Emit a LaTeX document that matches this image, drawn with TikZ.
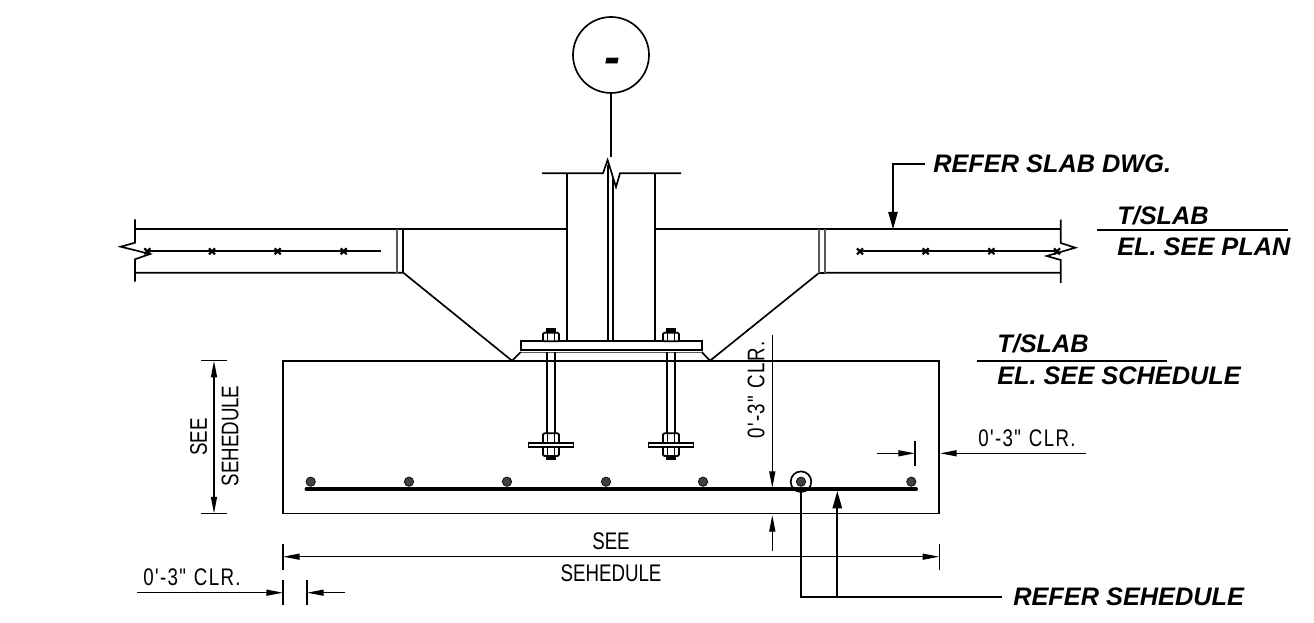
\documentclass[tikz,border=0pt]{standalone}
\usepackage{fontspec}
\setmainfont{Liberation Sans}
\newfontfamily\dimfont[FakeStretch=0.78]{Liberation Sans}
\usetikzlibrary{arrows.meta}
\tikzset{
  ln/.style={line width=1.25pt,black},
  thin ln/.style={line width=1pt,black},
  gray ln/.style={line width=1.25pt,black!65},
  dimarrow/.style={line width=1pt,black,-{Triangle[length=12.5pt,width=4.5pt]}},
  dimboth/.style={line width=1pt,black,{Triangle[length=12.5pt,width=4.5pt]}-{Triangle[length=12.5pt,width=4.5pt]}},
  leadarrow/.style={line width=1.25pt,black,-{Triangle[length=13pt,width=7pt]}},
  label/.style={font=\fontsize{19}{21}\selectfont\bfseries\itshape,inner sep=0pt,anchor=west},
  dim/.style={font=\dimfont\fontsize{18}{20}\selectfont,inner sep=0pt},
  bar/.style={circle,fill=black!75,draw=black,line width=0.5pt,minimum size=7pt,inner sep=0pt},
}
\newcommand{\clrtext}{0\kern1pt'\kern1pt-\kern1pt3\kern1pt"\kern6pt C\kern1pt L\kern1pt R\kern1pt.}
\begin{document}
\begin{tikzpicture}[x=0.75pt,y=-0.75pt]
\useasboundingbox (0,0) rectangle (1314,623);
% callout
\node[circle,draw,line width=1.25pt,minimum size=57pt,inner sep=0pt] (bubble) at (611,55) {};
\node[font=\fontsize{36}{36}\selectfont\bfseries\itshape,inner sep=0pt] (dash) at (612,66) {-};
\coordinate (stem) at (611,157);
\draw[ln] (bubble.south) -- (stem);
% column
\draw[ln] (542,173.3) -- (603,173.3) -- (607.6,160) -- (616,187) -- (620,173.3) -- (681,173.3);
\draw[ln] (566.7,173.3) -- (566.7,341.3) (655.3,173.3) -- (655.3,341.3);
\draw[ln] (608.3,165) -- (608.3,341.3) (613.3,178) -- (613.3,341.3);
% left slab
\draw[ln] (135,229.3) -- (566.7,229.3);
\draw[ln] (135,272.7) -- (403.3,272.7) -- (512,360.7) -- (520.7,352);
\draw[ln] (135,219.3) -- (135,242.7) -- (120.7,246.7) -- (150,254) -- (135,259.3) -- (135,281.7);
\draw[gray ln] (396.7,229.3) -- (396.7,272.7);
\draw[ln] (403.3,229.3) -- (403.3,272.7);
\draw[ln] (147,251.3) -- (381,251.3);
\foreach \x in {147.3,212,277.7,343.7}
  \draw[line width=1.6pt] (\x-3,248.3) -- (\x+3,254.3) (\x-3,254.3) -- (\x+3,248.3);
% right slab
\draw[ln] (655.3,229.3) -- (1060.7,229.3);
\draw[ln] (1060.7,272.7) -- (825,272.7) (819.3,272.7) -- (710,360.7) -- (701.7,352);
\draw[ln] (819.3,272.7) -- (825,272.7);
\draw[ln] (1060.7,219.7) -- (1060.7,243) -- (1075.3,247.7) -- (1046.7,256) -- (1060.7,260) -- (1060.7,283);
\draw[gray ln] (819.3,229.3) -- (819.3,272.7) (825,229.3) -- (825,272.7);
\draw[ln] (860,251.3) -- (1057,251.3);
\foreach \x in {860,925.7,991.3,1057}
  \draw[line width=1.6pt] (\x-3,248.3) -- (\x+3,254.3) (\x-3,254.3) -- (\x+3,248.3);
% footing
\node[draw,line width=1.25pt,outer sep=0pt,minimum width=492.2pt,minimum height=114.7pt,inner sep=0pt,anchor=north west] (footing) at (283,360.7) {};
% plate
\draw[ln,fill=white] (520.7,341.3) rectangle (701.7,350);
\draw[line width=1.5pt] (520.7,350.5) -- (701.7,350.5);
\draw[gray ln] (520.7,352.5) -- (701.7,352.5);
% bolts
\foreach \c in {551,671}{
  \draw[ln] (\c-4,352) -- (\c-4,433) (\c+4,352) -- (\c+4,433);
  \draw[ln,fill=white,rounded corners=1pt] (\c-8,332.7) rectangle (\c+8,341.3);
  \draw[ln] (\c-3.5,332.7) -- (\c-3.5,341.3) (\c+3.5,332.7) -- (\c+3.5,341.3);
  \fill (\c-5,328.5) rectangle (\c+5,332.7);
  \draw[ln,fill=white,rounded corners=1pt] (\c-8,433.3) rectangle (\c+8,456);
  \draw[ln] (\c-3.5,433.3) -- (\c-3.5,456) (\c+3.5,433.3) -- (\c+3.5,456);
  \draw[ln,fill=white] (\c-22.5,442.7) rectangle (\c+22.5,447.3);
  \fill (\c-5,456) rectangle (\c+5,460);
}
% bottom rebar
\draw[line width=3pt,line cap=round] (306.5,489.3) -- (916,489.3);
\foreach \n/\x in {a/310.7,b/409,c/507,d/606,e/703,f/801,g/911.3}
  \node[bar] (bar\n) at (\x,481.7) {};
\draw[ln] (barf) circle[radius=10.3];
% see schedule vertical
\draw[thin ln] (201,360.7) -- (227,360.7) (201,513.5) -- (227,513.5);
\coordinate (vt) at (214,360.7); \coordinate (vb) at (214,513.5);
\draw[dimboth] (vt) -- (vb);
\node[dim,rotate=90] (vsee) at (198.5,437) {SEE};
\node[dim,rotate=90] (vsch) at (230,436) {SEHEDULE};
% see schedule horizontal
\draw[thin ln] (283,544) -- (283,570) (939.3,544) -- (939.3,570);
\coordinate (hl) at (283,556.7); \coordinate (hr) at (939.3,556.7);
\draw[dimboth] (hl) -- (hr);
\node[dim] (hsee) at (611,541) {SEE};
\node[dim] (hsch) at (611,573) {SEHEDULE};
% bottom-left clearance
\draw[thin ln] (283,580) -- (283,605) (307,580) -- (307,605);
\coordinate (c1a) at (137,592.7); \coordinate (c1b) at (283,592.7);
\coordinate (c1c) at (345,592.7); \coordinate (c1d) at (307,592.7);
\draw[dimarrow] (c1a) -- (c1b);
\draw[dimarrow] (c1c) -- (c1d);
\node[dim] (c1t) at (192,577) {\clrtext};
% right clearance
\draw[thin ln] (915,441) -- (915,466);
\coordinate (c2a) at (877,453.3); \coordinate (c2b) at (915,453.3);
\coordinate (c2c) at (1086,453.3); \coordinate (c2d) at (940,453.3);
\draw[dimarrow] (c2a) -- (c2b);
\draw[dimarrow] (c2c) -- (c2d);
\node[dim] (c2t) at (1027,438) {\clrtext};
% vertical clearance
\coordinate (c3a) at (772.3,335); \coordinate (c3b) at (772.3,488);
\coordinate (c3c) at (772.3,551); \coordinate (c3d) at (772.3,515);
\draw[dimarrow] (c3a) -- (c3b);
\draw[dimarrow] (c3c) -- (c3d);
\node[dim,rotate=90] (c3t) at (756,390) {\clrtext};
% leaders
\coordinate (l1) at (893,229.3); \coordinate (l1t) at (925,164);
\draw[leadarrow] (l1t) -- (893,164) -- (l1);
\node[label] (slabdwg) at (933,164) {REFER SLAB DWG.};
\coordinate (l2) at (837.3,491); \coordinate (l3) at (801,491); \coordinate (l4) at (1002,596.7);
\draw[ln] (l3) -- (801,596.7) -- (l4);
\draw[leadarrow] (837.3,596.7) -- (l2);
\node[label] (sched) at (1013,597) {REFER SEHEDULE};
% levels
\node[label] (t1) at (1117,216) {T/SLAB};
\node[label] (e1) at (1117,247) {EL. SEE PLAN};
\coordinate (t1a) at (1097,230); \coordinate (t1b) at (1288,230);
\draw[ln] (t1a) -- (t1b);
\node[label] (t2) at (997,344) {T/SLAB};
\node[label] (e2) at (997,376) {EL. SEE SCHEDULE};
\coordinate (t2a) at (977,360.7); \coordinate (t2b) at (1167,360.7);
\draw[ln] (t2a) -- (t2b);
\end{tikzpicture}
\end{document}
